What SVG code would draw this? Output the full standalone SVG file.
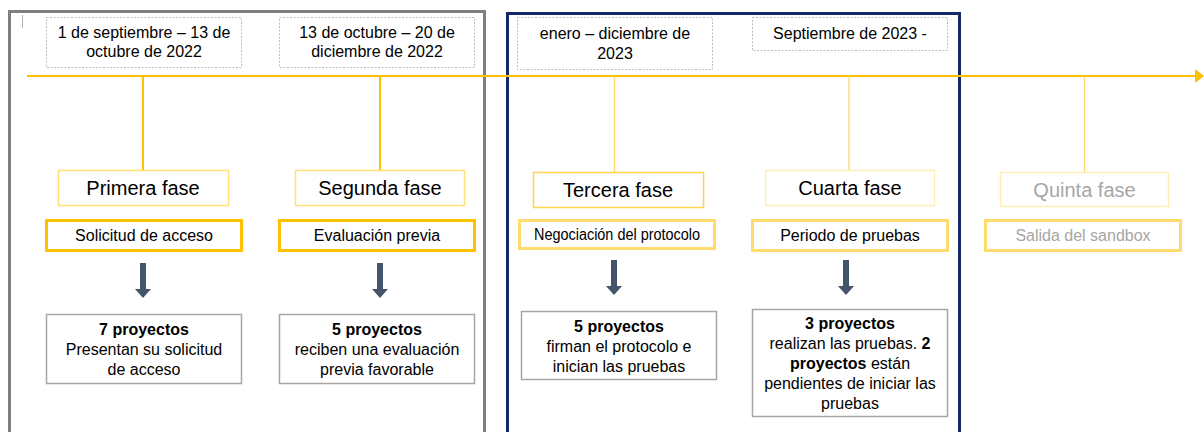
<svg xmlns="http://www.w3.org/2000/svg" width="1204" height="432" viewBox="0 0 1204 432">
<style>
text{font-family:"Liberation Sans",Arial,sans-serif;fill:#000;text-anchor:middle}
.date{fill:#fff;stroke:#bdbdbd;stroke-width:1;stroke-dasharray:2 1.5}
.dt{font-size:16px}
.ttl{font-size:20px}
.sub{font-size:16px}
.res{fill:#fff;stroke:#a6a6a6;stroke-width:1.5}
.rt{font-size:16px}
.b{font-weight:bold}
.ph1{fill:#fff;stroke:#ffe07a;stroke-width:1.5}
.ph3{fill:#fff;stroke:#ffd34d;stroke-width:1.5}
.ph4{fill:#fff;stroke:#ffedb8;stroke-width:1.5}
.sb1{fill:#fff;stroke:#ffc000;stroke-width:3}
.sb2{fill:#fff;stroke:#ffdb70;stroke-width:3}
.grey{fill:#a6a6a6}
.stem1{stroke:#ffc000;stroke-width:2}
.stem2{stroke:#ffd966;stroke-width:1.3}
.arr{fill:#44546a}
</style>
<rect width="1204" height="432" fill="#fff"/>
<g id="frames">
<rect x="9.5" y="11.5" width="475" height="440" fill="none" stroke="#7f7f7f" stroke-width="3"/>
<rect x="507.5" y="13.5" width="452" height="440" fill="none" stroke="#14286e" stroke-width="3"/>
<line x1="22.5" y1="15" x2="22.5" y2="28" stroke="#b0b0b0" stroke-width="1"/>
</g>
<g id="connectors">
<line x1="27" y1="76" x2="1196" y2="76" stroke="#ffc000" stroke-width="2"/>
<polygon points="1195,69 1204,76 1195,83" fill="#ffc000"/>
<line class="stem1" x1="143" y1="76" x2="143" y2="170"/>
<line class="stem1" x1="380" y1="76" x2="380" y2="170"/>
<line class="stem2" x1="614.5" y1="76" x2="614.5" y2="172"/>
<line class="stem2" x1="849" y1="76" x2="849" y2="170"/>
<line class="stem2" x1="1084.5" y1="76" x2="1084.5" y2="172"/>
<path class="arr" d="M140,263h6v26h5l-8,9l-8,-9h5z"/>
<path class="arr" d="M377,263h6v26h5l-8,9l-8,-9h5z"/>
<path class="arr" d="M611,260h6v26h5l-8,9l-8,-9h5z"/>
<path class="arr" d="M843,260h6v26h5l-8,9l-8,-9h5z"/>
</g>
<g id="date1"><rect class="date" x="46.5" y="17.5" width="195" height="50"/>
<text class="dt" x="144" y="38">1 de septiembre – 13 de</text><text class="dt" x="144" y="57">octubre de 2022</text></g>
<g id="date2"><rect class="date" x="279.5" y="17.5" width="195" height="50"/>
<text class="dt" x="377" y="38">13 de octubre – 20 de</text><text class="dt" x="377" y="57">diciembre de 2022</text></g>
<g id="date3"><rect class="date" x="517.5" y="17.5" width="195" height="52"/>
<text class="dt" x="615" y="39">enero – diciembre de</text><text class="dt" x="615" y="59">2023</text></g>
<g id="date4"><rect class="date" x="752.5" y="17.5" width="195" height="33"/>
<text class="dt" x="850" y="39">Septiembre de 2023 -</text></g>
<g id="phase1"><rect class="ph1" x="58.5" y="170.5" width="170" height="35"/><text class="ttl" x="143" y="195">Primera fase</text></g>
<g id="phase2"><rect class="ph1" x="295.5" y="170.5" width="169" height="35"/><text class="ttl" x="380" y="195">Segunda fase</text></g>
<g id="phase3"><rect class="ph3" x="533.5" y="172.5" width="170" height="35"/><text class="ttl" x="618" y="197">Tercera fase</text></g>
<g id="phase4"><rect class="ph4" x="765.5" y="170.5" width="169" height="35"/><text class="ttl" x="850" y="195">Cuarta fase</text></g>
<g id="phase5"><rect class="ph4" x="1000.5" y="172.5" width="168" height="34"/><text class="ttl grey" x="1084.5" y="197">Quinta fase</text></g>
<g id="step1"><rect class="sb1" x="46.5" y="220.5" width="195" height="30"/><text class="sub" x="144" y="241">Solicitud de acceso</text></g>
<g id="step2"><rect class="sb1" x="279.5" y="220.5" width="195" height="30"/><text class="sub" x="377" y="241">Evaluación previa</text></g>
<g id="step3"><rect class="sb2" x="519.5" y="220.5" width="195" height="28"/><text class="sub" x="617" y="240" textLength="166" lengthAdjust="spacingAndGlyphs">Negociación del protocolo</text></g>
<g id="step4"><rect class="sb2" x="752.5" y="220.5" width="195" height="30"/><text class="sub" x="850" y="241">Periodo de pruebas</text></g>
<g id="step5"><rect class="sb2" x="985.5" y="220.5" width="195" height="30"/><text class="sub grey" x="1083" y="241">Salida del sandbox</text></g>
<g id="result1"><rect class="res" x="46.5" y="314.5" width="195" height="69"/>
<text class="rt b" x="144" y="335">7 proyectos</text><text class="rt" x="144" y="355">Presentan su solicitud</text><text class="rt" x="144" y="375">de acceso</text></g>
<g id="result2"><rect class="res" x="279.5" y="314.5" width="195" height="69"/>
<text class="rt b" x="377" y="335">5 proyectos</text><text class="rt" x="377" y="355">reciben una evaluación</text><text class="rt" x="377" y="375">previa favorable</text></g>
<g id="result3"><rect class="res" x="521.5" y="311.5" width="195" height="68"/>
<text class="rt b" x="619" y="332">5 proyectos</text><text class="rt" x="619" y="352">firman el protocolo e</text><text class="rt" x="619" y="372">inician las pruebas</text></g>
<g id="result4"><rect class="res" x="752.5" y="309.5" width="195" height="107"/>
<text class="rt b" x="850" y="329">3 proyectos</text><text class="rt" x="850" y="349">realizan las pruebas. <tspan class="b">2</tspan></text><text class="rt" x="850" y="369"><tspan class="b">proyectos</tspan> están</text><text class="rt" x="850" y="389">pendientes de iniciar las</text><text class="rt" x="850" y="409">pruebas</text></g>
</svg>
